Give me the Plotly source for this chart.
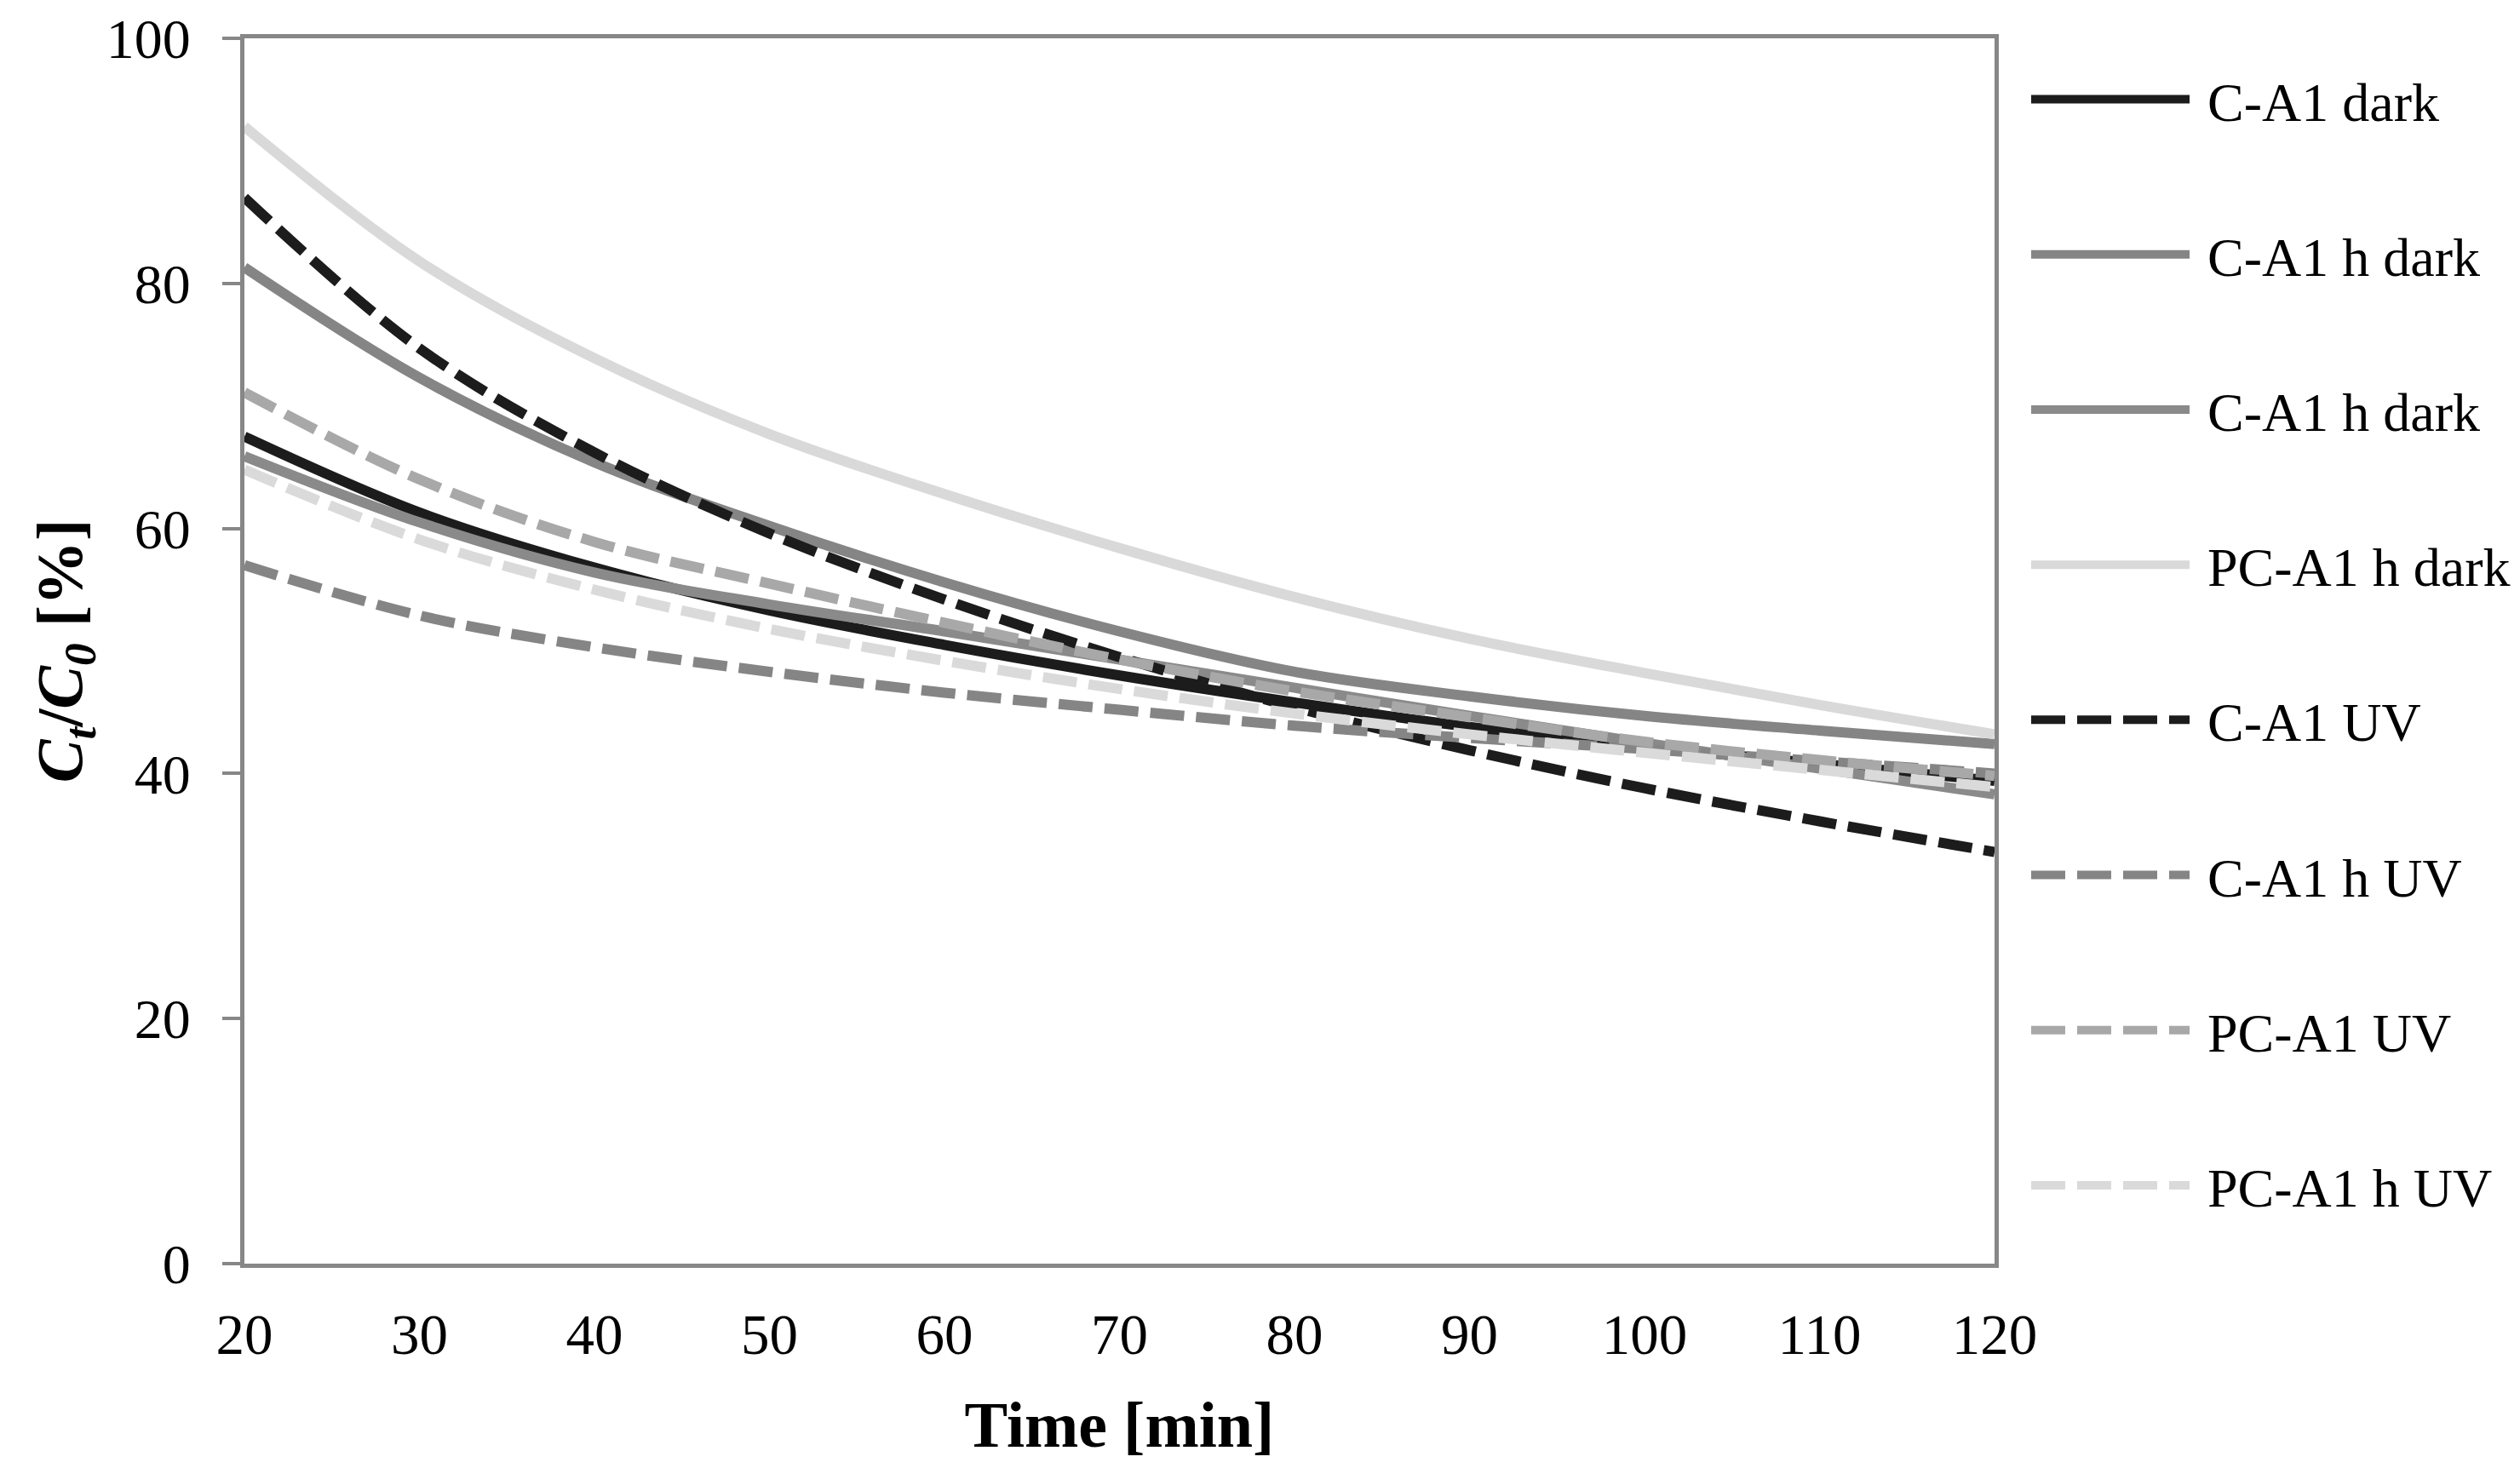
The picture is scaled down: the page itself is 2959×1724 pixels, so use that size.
import plotly.graph_objects as go

time_min = [20, 30, 40, 50, 60, 70, 80, 90, 100, 110, 120]

series_names = ["C-A1 dark", "C-A1 h dark", "C-A1 h dark", "PC-A1 h dark",
                "C-A1 UV", "C-A1 h UV", "PC-A1 UV", "PC-A1 h UV"]

ca1_dark      = [67.5, 61.3, 56.8, 53.3, 50.5, 48.0, 45.8, 43.8, 42.2, 40.8, 39.4]
ca1h_dark_a   = [81.3, 72.3, 65.4, 60.2, 55.6, 51.6, 48.3, 46.3, 44.7, 43.5, 42.4]
ca1h_dark_b   = [65.9, 60.5, 56.4, 53.8, 51.6, 49.3, 47.0, 44.7, 42.5, 40.4, 38.3]
pca1h_dark    = [92.8, 81.8, 73.9, 67.7, 62.8, 58.4, 54.4, 51.0, 48.2, 45.6, 43.2]
ca1_uv        = [87.0, 74.7, 66.2, 59.6, 54.2, 49.5, 45.4, 41.9, 38.8, 36.1, 33.6]
ca1h_uv       = [57.0, 52.9, 50.3, 48.3, 46.6, 45.2, 43.9, 42.9, 42.0, 41.0, 40.0]
pca1_uv       = [71.1, 64.0, 58.9, 55.5, 52.3, 49.3, 46.7, 44.6, 42.6, 41.1, 39.8]
pca1h_uv      = [64.8, 59.1, 55.0, 51.8, 49.2, 46.9, 44.9, 43.2, 41.7, 40.3, 38.9]

series_values = [ca1_dark, ca1h_dark_a, ca1h_dark_b, pca1h_dark,
                 ca1_uv, ca1h_uv, pca1_uv, pca1h_uv]
series_colors = ["#1c1c1c", "#858585", "#8a8a8a", "#d9d9d9",
                 "#1c1c1c", "#858585", "#a8a8a8", "#dadada"]
series_dash = ["solid", "solid", "solid", "solid",
               "40px,14px", "40px,14px", "40px,14px", "40px,14px"]

x_ticks = [20, 30, 40, 50, 60, 70, 80, 90, 100, 110, 120]
y_ticks = [0, 20, 40, 60, 80, 100]

FONT = "Liberation Serif, Times New Roman, serif"
AX = "#878787"
NBSP = "\u00a0"

fig = go.Figure()
for i, (name, vals, col, dsh) in enumerate(zip(series_names, series_values, series_colors, series_dash)):
    fig.add_trace(go.Scatter(
        x=time_min, y=vals, name=NBSP + name, mode="lines",
        line=dict(color=col, width=12, dash=dsh, shape="spline", smoothing=1.0),
        legendgroup=f"g{i}",
    ))

fig.update_layout(
    width=2959, height=1724,
    paper_bgcolor="white", plot_bgcolor="white",
    margin=dict(l=279, r=625, t=37, b=248, autoexpand=False),
    font=dict(family=FONT, size=66, color="black"),
    showlegend=True,
    legend=dict(
        x=1.0185, xanchor="left", y=0.9837, yanchor="top",
        font=dict(family=FONT, size=64, color="black"),
        itemwidth=186, tracegroupgap=96,
        bgcolor="rgba(0,0,0,0)",
    ),
    xaxis=dict(
        range=[20, 120], tickvals=x_ticks, ticktext=[str(v) for v in x_ticks],
        showgrid=False, zeroline=False, automargin=False,
        showline=True, linecolor=AX, linewidth=5, mirror=True,
        ticks="", ticklabelstandoff=21, ticklabeloverflow="allow",
        tickfont=dict(family=FONT, size=67, color="black"),
        title=dict(text="<b>Time [min]</b>", font=dict(family=FONT, size=76, color="black"), standoff=44),
    ),
    yaxis=dict(
        range=[0, 100], tickvals=y_ticks, ticktext=[str(v) for v in y_ticks],
        showgrid=False, zeroline=False, automargin=False,
        showline=True, linecolor=AX, linewidth=5, mirror=True,
        ticks="outside", ticklen=21, tickwidth=4, tickcolor=AX,
        ticklabelstandoff=24, ticklabeloverflow="allow",
        tickfont=dict(family=FONT, size=66, color="black"),
        title=dict(text="<b><i>C<sub>t</sub></i>/<i>C<sub>0</sub></i> [%]</b>",
                   font=dict(family=FONT, size=76, color="black"), standoff=5),
    ),
)

fig.write_html("out.html")
